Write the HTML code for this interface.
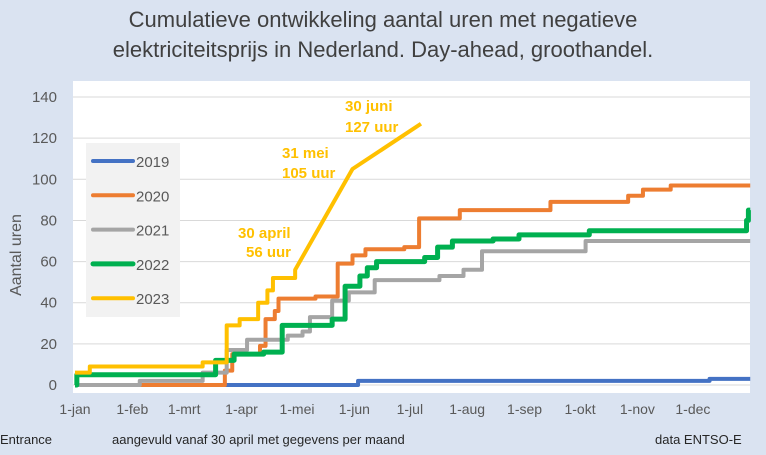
<!DOCTYPE html>
<html><head><meta charset="utf-8"><style>
body{margin:0;background:#dae3f1;}
svg{display:block;font-family:"Liberation Sans",sans-serif;}
</style></head><body>
<svg id="chart" width="766" height="455" viewBox="0 0 766 455">
<rect x="0" y="0" width="766" height="455" fill="#dae3f1"/>
<text x="383" y="27" text-anchor="middle" font-size="22" fill="#404040">Cumulatieve ontwikkeling aantal uren met negatieve</text>
<text x="383" y="57" text-anchor="middle" font-size="22" fill="#404040">elektriciteitsprijs in Nederland. Day-ahead, groothandel.</text>
<rect x="73" y="81" width="677" height="312" fill="#ffffff"/>
<g id="grid"></g><g id="yticks"></g><g id="xticks"></g><g id="series"></g>
<text transform="translate(21,255) rotate(-90)" text-anchor="middle" font-size="16" fill="#595959">Aantal uren</text>
<g><rect x="86" y="143" width="94" height="174" fill="#f2f2f2"/></g>
<g id="legend"></g>
<g font-size="15" font-weight="bold" fill="#ffc000">
<text x="345" y="111">30 juni</text>
<text x="345" y="132">127 uur</text>
<text x="282" y="158">31 mei</text>
<text x="282" y="178">105 uur</text>
<text x="238" y="238">30 april</text>
<text x="246" y="257">56 uur</text>
</g>
<g font-size="13" fill="#262626">
<text x="0" y="444">Entrance</text>
<text x="112" y="444">aangevuld vanaf 30 april met gegevens per maand</text>
<text x="655" y="444">data ENTSO-E</text>
</g>
</svg>
<script>
const yTicks=[0,20,40,60,80,100,120,140];
const monthLabels=["1-jan","1-feb","1-mrt","1-apr","1-mei","1-jun","1-jul","1-aug","1-sep","1-okt","1-nov","1-dec"];
const monthDays=[0,31,59,90,120,151,181,212,243,273,304,334];
const seriesNames=["2019","2020","2021","2022","2023"];
const seriesColors=["#4472c4","#ed7d31","#a5a5a5","#00b050","#ffc000"];
const days2019=[0,153,343,365];
const vals2019=[0,2,3,3];
const days2020=[0,81,85,100,103,108,110,130,142,150,157,178,186,208,257,299,307,322,365];
const vals2020=[0,7,15,19,32,36,42,43,59,63,66,67,81,85,89,92,95,97,97];
const days2021=[0,35,69,82,93,115,123,127,139,148,162,197,210,220,276,365];
const vals2021=[0,2,6,17,22,24,26,33,41,45,51,53,56,65,70,70];
const days2022=[0,1,76,86,102,112,139,146,154,158,163,189,196,204,226,240,278,363,364,365];
const vals2022=[0,5,12,15,16,29,32,48,53,57,60,62,67,70,71,73,75,80,85,85];
const days2023=[0,8,69,82,89,99,104,107,119];
const vals2023=[6,9,11,29,32,40,46,52,56];
const lineDays2023=[119,150,187];
const lineVals2023=[56,105,127];
const NS="http://www.w3.org/2000/svg";
const X=d=>75+d*1.85, Y=v=>385-v*2.057;
function mk(t,a,p){const e=document.createElementNS(NS,t);for(const k in a)e.setAttribute(k,a[k]);document.getElementById(p).appendChild(e);return e;}
yTicks.forEach(v=>{
 const g=mk('line',{x1:73,x2:750,y1:Y(v),y2:Y(v),stroke:'#d9d9d9','stroke-width':1},'grid');
 
 
 const t=mk('text',{x:57,y:Y(v)+5,'text-anchor':'end','font-size':15,fill:'#595959'},'yticks');
 t.textContent=v;
 
 
});
monthLabels.forEach((m,i)=>{
 const t=mk('text',{x:X(monthDays[i]),y:414,'text-anchor':'middle','font-size':14,fill:'#595959'},'xticks');
 t.textContent=m;
 
 
});
function stepPath(ds,vs){let p='M'+X(ds[0])+','+Y(vs[0]);for(let i=1;i<ds.length;i++){p+=' H'+X(ds[i])+' V'+Y(vs[i]);}return p;}
const all=[[days2019,vals2019],[days2020,vals2020],[days2021,vals2021],[days2022,vals2022]];
all.forEach((s,i)=>{
 const p=mk('path',{d:stepPath(s[0],s[1]),fill:'none',stroke:seriesColors[i],'stroke-width':i==3?5:4,'stroke-linejoin':'round'},'series');
 
 
});
let d23=stepPath(days2023,vals2023);
lineDays2023.forEach((d,i)=>{d23+=' L'+X(d)+','+Y(lineVals2023[i]);});
const p23=mk('path',{d:d23,fill:'none',stroke:seriesColors[4],'stroke-width':4,'stroke-linejoin':'round'},'series');


seriesNames.forEach((n,i)=>{
 const y=161+i*34.3;
 const l=mk('line',{x1:93,x2:133,y1:y,y2:y,stroke:seriesColors[i],'stroke-width':i==3?5:4,'stroke-linecap':'round'},'legend');
 
 
 const t=mk('text',{x:136,y:y+6,'font-size':15,fill:'#595959'},'legend');
 t.textContent=n;
 
 
});
</script>
</body></html>
